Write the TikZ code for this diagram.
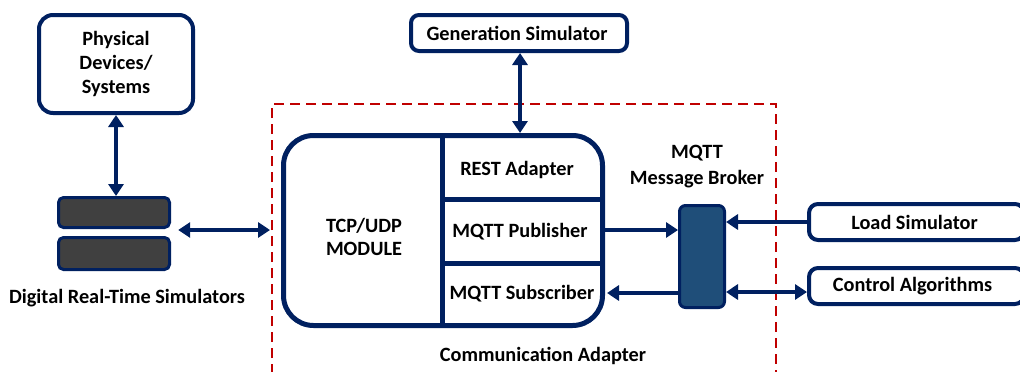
\documentclass[tikz,border=0pt]{standalone}
\usepackage{fontspec}
\setmainfont{Carlito}
\usetikzlibrary{arrows.meta,calc}
\definecolor{navy}{HTML}{002060}
\definecolor{redd}{HTML}{C00000}
\definecolor{brokerblue}{HTML}{1F4E79}
\definecolor{drtsgray}{HTML}{404040}
\begin{document}
\begin{tikzpicture}[x=1pt,y=-1pt,
  txt/.style={font=\bfseries\fontsize{20.3}{24}\selectfont, text=black, align=center, inner sep=0},
  boxw/.style={draw=navy, line width=4pt, fill=white, rounded corners=14pt, inner sep=0, txt},
  drtsbox/.style={draw=navy, line width=3pt, fill=drtsgray, rounded corners=5pt, inner sep=0},
  conn/.style={draw=navy, line width=3.5pt, {Triangle[length=12pt,width=15pt]}-{Triangle[length=12pt,width=15pt]}},
  oneway/.style={draw=navy, line width=3.5pt, -{Triangle[length=12pt,width=15pt]}},
  ]
\useasboundingbox (0,0) rectangle (1020,372);
\clip (0,0) rectangle (1020,372);

% communication adapter boundary
\draw[redd, line width=2.5pt, dash pattern=on 10pt off 6pt] (272,390) -- (272,104) -- (776,104) -- (776,390);
\node[txt] (calabel) at (543,356) {Communication Adapter};

% physical devices
\node[boxw, minimum width=154pt, minimum height=98pt] (phys) at (116,64) {Physical\\Devices/\\Systems};

% DRTS
\node[drtsbox, minimum width=111pt, minimum height=30pt] (drts1) at (114,212.5) {};
\node[drtsbox, minimum width=111pt, minimum height=32pt] (drts2) at (114,253.5) {};
\node[inner sep=0, minimum width=114pt, minimum height=75pt] (drts) at (114,233) {};
\node[txt] (drtslabel) at (127,298) {Digital Real-Time Simulators};
\coordinate (caleft) at (270,230);

% generation simulator
\node[boxw, rounded corners=8pt, minimum width=216pt, minimum height=36pt] (gen) at (519,33) {\hspace*{-4pt}Generation Simulator};

% main module
\node[draw=navy, line width=5pt, rounded corners=30pt, minimum width=319pt, minimum height=190pt, inner sep=0] (main) at (443,230.5) {};
\draw[navy, line width=5pt] (442,133) -- (442,328);
\draw[navy, line width=5pt] (442,199) -- (603,199);
\draw[navy, line width=5pt] (442,263) -- (603,263);
\node[txt, align=center, font=\bfseries\fontsize{20.3}{23}\selectfont] (tcp) at (364,237) {TCP/UDP\\MODULE};
\node[txt] (rest) at (517,170) {REST Adapter};
\node[txt] (pub) at (520,232) {MQTT Publisher};
\node[txt] (sub) at (522,294) {MQTT Subscriber};

% broker
\node[draw=navy, line width=3pt, fill=brokerblue, rounded corners=6pt, minimum width=45pt, minimum height=102pt, inner sep=0] (broker) at (702,256.5) {};
\node[txt, font=\bfseries\fontsize{20.3}{26}\selectfont] (brokerlabel) at (697,167) {MQTT\\Message Broker};

% right boxes
\node[boxw, rounded corners=9pt, minimum width=215pt, minimum height=36pt] (load) at (916.5,222) {\hspace*{-4pt}Load Simulator};
\node[boxw, rounded corners=9pt, minimum width=215pt, minimum height=36pt] (ctrl) at (916.5,286) {\hspace*{-8pt}\raisebox{1pt}{Control Algorithms}};

% connectors
\draw[conn] (phys.south) -- (phys.south |- drts1.north);
\draw[conn] ([xshift=7pt]drts.east |- caleft) -- (caleft);
\draw[conn] (gen.south -| 520,0) -- (main.north -| 520,0);
\draw[oneway] (main.east |- 0,230) -- (broker.west |- 0,230);
\draw[oneway] (broker.west |- 0,293) -- ([xshift=2pt]main.east |- 0,293);
\draw[oneway] (load.west) -- (broker.east |- load.west);
\draw[conn] (broker.east |- 0,292) -- (ctrl.west |- 0,292);
\end{tikzpicture}
\end{document}
